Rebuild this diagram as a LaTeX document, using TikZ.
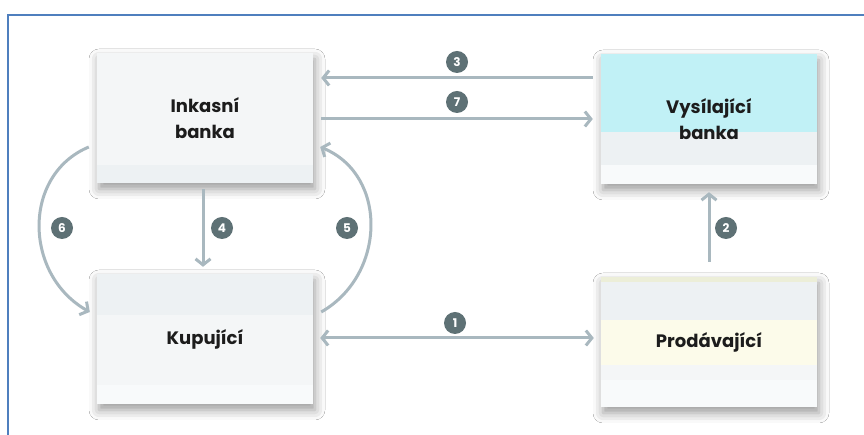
\documentclass[tikz,border=0pt]{standalone}
\usepackage{fontspec}
\setmainfont{Poppins}
\usetikzlibrary{positioning,calc,arrows.meta,shadows.blur}
\definecolor{framec}{HTML}{4F7FBE}
\definecolor{linkc}{HTML}{A9B8BF}
\definecolor{numc}{HTML}{5E7175}
\definecolor{cardc}{HTML}{F4F6F7}
\definecolor{vysc}{HTML}{C1F1F6}
\definecolor{grayband}{HTML}{EDF1F3}
\definecolor{paleband}{HTML}{F8FAFB}
\definecolor{yelband}{HTML}{FCFBEA}
\definecolor{yeltop}{HTML}{ECEED8}
\definecolor{textc}{HTML}{1C1C1C}
\newcommand{\bandfill}[3]{\fill[#3] ([yshift=#1]path picture bounding box.west) rectangle ([yshift=#2]path picture bounding box.east);}
\tikzset{
	>={Straight Barb[length=6pt,width=15pt]},
	card/.style={minimum width=216pt,minimum height=130pt,fill=cardc,align=center,text=textc,
		font=\bfseries\fontsize{18}{26}\selectfont,
		blur shadow={shadow xshift=2pt,shadow yshift=-6pt,shadow blur radius=10pt,shadow opacity=40}},
	link/.style={line width=3pt,draw=linkc},
	num/.style={circle,fill=numc,text=white,inner sep=0pt,minimum size=22pt,
		font=\bfseries\fontsize{12}{12}\selectfont}
}
\begin{document}
\begin{tikzpicture}[x=1pt,y=1pt]
		\useasboundingbox (0,0) rectangle (864,435);
		\fill[white] (0,0) rectangle (864,435);
		\draw[framec,line width=2pt] (8,0)--(8,420)--(864,420);
		
		\node[card,path picture={\bandfill{-47pt}{-65pt}{grayband}}] (ink) at (205,317) {Inkasní\\banka};
		\node[card,path picture={\bandfill{65pt}{-13pt}{vysc}\bandfill{-13pt}{-46pt}{grayband}\bandfill{-46pt}{-65pt}{paleband}}] (vys) at (709,316) {Vysílající\\banka};
		\node[card,path picture={\bandfill{65pt}{24pt}{grayband}\bandfill{-46pt}{-65pt}{paleband}}] (kup) at (205,96) {Kupující};
		\node[card,path picture={\bandfill{65pt}{60pt}{yeltop}\bandfill{60pt}{22pt}{grayband}\bandfill{22pt}{-23pt}{yelband}\bandfill{-38pt}{-65pt}{paleband}}] (pro) at (709,93) {Prodávající};
		
		\draw[link,<->] ($(kup.east)+(7,1)$)--($(pro.west)+(-7,4)$);
		\draw[link,->] ($(pro.north)+(0,15)$)--($(vys.south)+(0,-8)$);
		\draw[link,->] ($(vys.west)+(-8,41)$)--($(ink.east)+(8,40)$);
		\draw[link,->] ($(ink.south)+(-2,-6)$)--($(kup.north)+(-2,7)$);
		\draw[link,->] ($(kup.east)+(8,27)$) .. controls +(65,37) and +(68,-28) .. ($(ink.east)+(7,-29)$);
		\draw[link,->] ($(ink.west)+(-8,-29)$) .. controls +(-67,-28) and +(-66,37) .. ($(kup.west)+(-7,27)$);
		\draw[link,->] ($(ink.east)+(8,-1)$)--($(vys.west)+(-8,0)$);
		
		\node[num] (n1) at (455,112) {1};
		\node[num] (n2) at (726,207) {2};
		\node[num] (n3) at (457,373) {3};
		\node[num] (n4) at (222,207) {4};
		\node[num] (n5) at (347,207) {5};
		\node[num] (n6) at (62,207) {6};
		\node[num] (n7) at (457,333) {7};
	\end{tikzpicture}
\end{document}
